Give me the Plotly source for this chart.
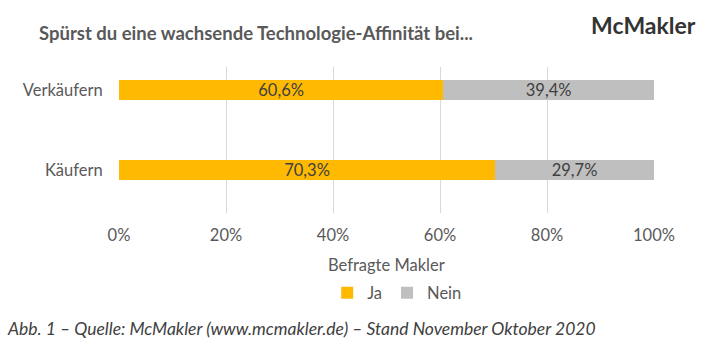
import plotly.graph_objects as go

categories = ["Käufern", "Verkäufern"]
ja_values = [70.3, 60.6]
nein_values = [29.7, 39.4]
tick_values = [0, 20, 40, 60, 80, 100]
tick_labels = [f"{v}%" for v in tick_values]

FONT = "Lato, Carlito, 'Open Sans', sans-serif"
TXT = "#595959"
FS = 16.5

fig = go.Figure()
fig.add_trace(go.Bar(
    y=categories, x=ja_values, name="Ja", orientation="h",
    marker=dict(color="#FFB900", line=dict(width=0)),
    width=0.25,
    texttemplate="%{x:.1f}%", textposition="inside", insidetextanchor="middle",
    constraintext="none",
    textfont=dict(color="#404040", size=FS, family=FONT),
))
fig.add_trace(go.Bar(
    y=categories, x=nein_values, name="Nein", orientation="h",
    marker=dict(color="#BFBFBF", line=dict(width=0)),
    width=0.25,
    texttemplate="%{x:.1f}%", textposition="inside", insidetextanchor="middle",
    constraintext="none",
    textfont=dict(color="#404040", size=FS, family=FONT),
))

fig.update_layout(
    width=710, height=353,
    barmode="stack",
    separators=",.",
    paper_bgcolor="white", plot_bgcolor="white",
    margin=dict(l=119, r=56, t=67, b=140, pad=0),
    font=dict(family=FONT, color=TXT, size=FS),
    showlegend=True,
    legend=dict(
        orientation="h", x=0.52, xanchor="center", y=-0.548, yanchor="middle",
        font=dict(size=FS, color=TXT, family=FONT),
        traceorder="normal", itemwidth=30,
    ),
    xaxis=dict(
        range=[0, 100], tickvals=tick_values, ticktext=tick_labels,
        showgrid=True, gridcolor="#D9D9D9", gridwidth=1,
        zeroline=False, showline=False,
        ticks="outside", ticklen=7, tickcolor="rgba(0,0,0,0)",
        tickfont=dict(size=FS, color=TXT, family=FONT),
        fixedrange=True,
    ),
    yaxis=dict(
        type="category", categoryorder="array", categoryarray=categories,
        range=[-0.5375, 1.2875],
        showgrid=False, zeroline=False, showline=False,
        ticks="outside", ticklen=12, tickcolor="rgba(0,0,0,0)",
        tickfont=dict(size=FS, color=TXT, family=FONT),
        fixedrange=True,
    ),
    annotations=[
        dict(text="<b>Spürst du eine wachsende Technologie-Affinität bei...</b>",
             xref="paper", yref="paper", x=(37-119)/535, y=(213-33)/146,
             xanchor="left", yanchor="middle", showarrow=False,
             font=dict(size=18.5, color=TXT, family=FONT)),
        dict(text="<b>McMakler</b>",
             xref="paper", yref="paper", x=(698-119)/535, y=(213-25)/146,
             xanchor="right", yanchor="middle", showarrow=False,
             font=dict(size=23, color="#333333", family=FONT)),
        dict(text="Befragte Makler",
             xref="paper", yref="paper", x=0.5, y=(213-265)/146,
             xanchor="center", yanchor="middle", showarrow=False,
             font=dict(size=FS, color=TXT, family=FONT)),
        dict(text="<i>Abb. 1 – Quelle: McMakler (www.mcmakler.de) – Stand November Oktober 2020</i>",
             xref="paper", yref="paper", x=(5-119)/535, y=(213-328)/146,
             xanchor="left", yanchor="middle", showarrow=False,
             font=dict(size=17.5, color="#404040", family=FONT)),
    ],
)

fig.write_html("out.html")
